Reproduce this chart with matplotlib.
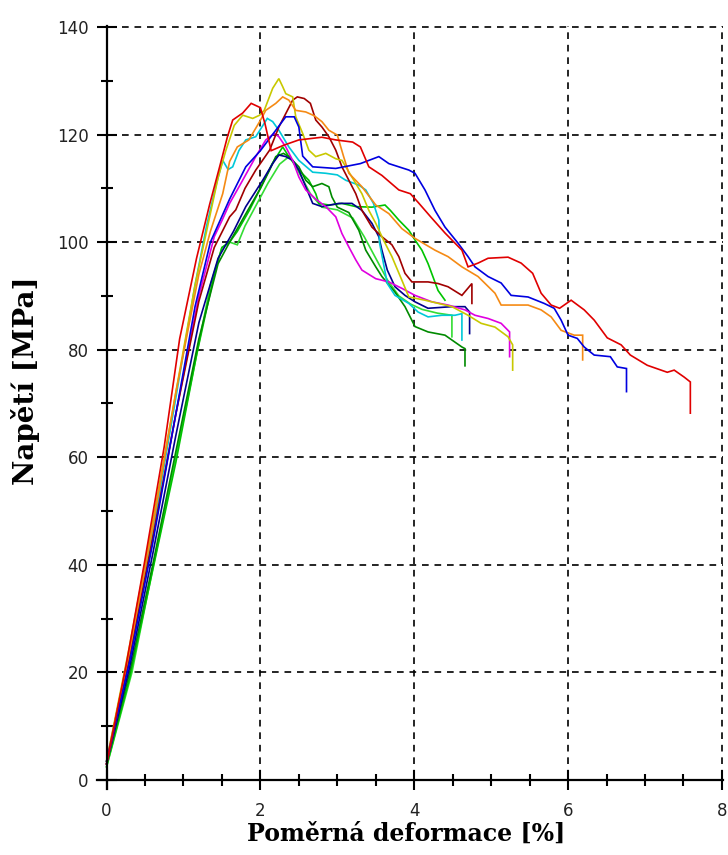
import matplotlib
matplotlib.use('Agg')
import matplotlib.pyplot as plt

# stress-strain curves of the tested specimens: strain [%], stress [MPa]
red_x = [0, 0.25, 0.5, 0.75, 0.95, 1.17, 1.34, 1.47, 1.57, 1.64, 1.77, 1.88, 2.0, 2.06, 2.14, 2.3, 2.5, 2.8, 2.98, 3.2, 3.3,
         3.41, 3.58, 3.8, 3.95, 4.05, 4.22, 4.4, 4.62, 4.70, 4.83, 4.96, 5.22, 5.39, 5.54, 5.65, 5.78, 5.89, 6.04, 6.21,
         6.34, 6.51, 6.69, 6.81, 7.03, 7.29, 7.38, 7.51, 7.59, 7.59]
red_y = [3, 21, 41, 62, 82, 97, 107, 114, 119.5, 122.7, 124, 125.8, 125, 122, 117, 118, 119, 119.5, 119, 118.6, 117.7,
         114, 112.4, 109.7, 109, 107.4, 104.6, 101.7, 98.5, 95.4, 96.1, 97, 97.2, 96.1, 94.2, 90.5, 88.3, 87.7, 89.2, 87.4,
         85.5, 82.2, 80.9, 79, 77.1, 75.8, 76.2, 74.9, 74, 68.2]

blue_x = [0, 0.3, 0.6, 0.9, 1.15, 1.35, 1.6, 1.81, 2.0, 2.2, 2.33, 2.44, 2.5, 2.55, 2.68, 2.98, 3.3, 3.54, 3.67, 3.93,
          4.01, 4.14, 4.27, 4.4, 4.57, 4.7, 4.79, 4.96, 5.13, 5.26, 5.48, 5.69, 5.82, 5.91, 6.0, 6.12, 6.21, 6.34, 6.55,
          6.64, 6.76, 6.76]
blue_y = [3.5, 22, 44, 68, 88, 100, 108, 114, 117, 120.8, 123.3, 123.3, 121.4, 116, 114, 113.7, 114.6, 115.9, 114.6, 113.4,
          112.8, 109.7, 105.9, 102.8, 99.8, 97.3, 95.4, 93.6, 92.4, 90.1, 89.8, 88.6, 87.7, 85.5, 82.7, 82.1, 80.5, 79, 78.7,
          76.8, 76.5, 72.2]

orange_x = [0, 0.3, 0.6, 0.9, 1.2, 1.35, 1.51, 1.6, 1.7, 1.85, 1.99, 2.07, 2.2, 2.29, 2.37, 2.46, 2.59, 2.7, 2.8, 2.89,
            3.0, 3.08, 3.15, 3.32, 3.5, 3.67, 3.84, 4.01, 4.27, 4.44, 4.62, 4.83, 5.05, 5.13, 5.48, 5.65, 5.78, 5.91,
            6.08, 6.19, 6.19]
orange_y = [3.5, 24, 47, 72, 94, 102, 109, 115, 117.7, 119, 122.4, 124.5, 125.8, 127, 126.4, 124.5, 124.2, 123.5, 122.4,
            120.8, 119.9, 116, 112.8, 110.3, 106.9, 105.3, 102.5, 100.7, 98.5, 97.3, 95.4, 93.6, 90.5, 88.3, 88.3, 87.4,
            86.1, 83.6, 82.7, 82.7, 78.1]

yellow_x = [0, 0.3, 0.6, 0.9, 1.15, 1.3, 1.45, 1.55, 1.66, 1.77, 1.9, 1.99, 2.05, 2.16, 2.24, 2.29, 2.33, 2.42, 2.46,
            2.55, 2.63, 2.72, 2.85, 2.98, 3.06, 3.19, 3.32, 3.41, 3.5, 3.6, 3.71, 3.84, 3.93, 4.14, 4.49, 4.7, 4.87,
            5.05, 5.22, 5.28, 5.28]
yellow_y = [3.5, 25, 48, 72, 92, 102, 112, 117, 121.7, 123.6, 123, 123.6, 124.5, 128.6, 130.4, 128.9, 127.6, 127, 123.3,
            120.2, 117.1, 115.9, 116.5, 115.5, 115.2, 112.1, 109, 105.9, 103.5, 100.4, 97.3, 92.9, 89.8, 89.2, 88, 86.4,
            84.9, 84.2, 82.4, 80.9, 76.2]

maroon_x = [0, 0.3, 0.6, 0.9, 1.2, 1.4, 1.6, 1.68, 1.8, 1.94, 2.12, 2.24, 2.33, 2.42, 2.48, 2.57, 2.65, 2.72, 2.8, 2.89,
            2.98, 3.06, 3.15, 3.24, 3.32, 3.45, 3.58, 3.71, 3.8, 3.88, 3.97, 4.18, 4.31, 4.44, 4.62, 4.75, 4.75]
maroon_y = [3, 23, 45, 68, 89, 99, 104.7, 106, 110, 113.4, 117.1, 121.4, 123.9, 126.4, 127, 126.7, 125.8, 122.7, 121.4,
            119.6, 117.1, 114, 111.5, 109, 105.9, 102.8, 101, 99.5, 97.3, 94.2, 92.6, 92.6, 92.3, 91.7, 90.1, 92.3, 88.6]

cyan_x = [0, 0.3, 0.6, 0.9, 1.15, 1.3, 1.43, 1.51, 1.58, 1.64, 1.72, 1.81, 1.94, 2.09, 2.16, 2.24, 2.37, 2.5, 2.68, 2.85,
          3.0, 3.11, 3.28, 3.37, 3.47, 3.54, 3.55, 3.65, 3.75, 3.93, 4.05, 4.18, 4.36, 4.53, 4.62, 4.62]
cyan_y = [3.5, 24, 46, 71, 92, 103, 110.9, 115.2, 113.5, 114, 117, 119, 119.6, 123, 122.4, 120.8, 117.7, 115.2, 113,
          112.8, 112.5, 111.5, 110.6, 109.7, 107.2, 104.1, 99.8, 92.3, 90.1, 88.6, 87, 86.1, 86.4, 86.4, 86.7, 81.8]

magenta_x = [0, 0.3, 0.6, 0.9, 1.2, 1.4, 1.5, 1.6, 1.75, 1.94, 2.07, 2.18, 2.24, 2.33, 2.42, 2.5, 2.59, 2.72, 2.85, 2.98,
             3.06, 3.15, 3.24, 3.32, 3.5, 3.67, 3.84, 4.01, 4.23, 4.44, 4.66, 4.79, 4.96, 5.13, 5.24, 5.24]
magenta_y = [3, 23, 45, 68, 90, 101, 104, 107.2, 111, 115.9, 119, 120.2, 119.6, 117.7, 115.2, 112.1, 109.7, 108, 106.6,
             104.7, 101.6, 99.1, 96.7, 94.8, 93.2, 92.6, 91.4, 90.1, 88.9, 88.3, 87.4, 86.4, 85.8, 84.9, 83.3, 78.7]

navy_x = [0, 0.3, 0.6, 0.9, 1.2, 1.45, 1.65, 1.81, 2.03, 2.16, 2.24, 2.33, 2.42, 2.5, 2.59, 2.68, 2.8, 3.02, 3.19, 3.32,
          3.45, 3.54, 3.58, 3.65, 3.75, 3.88, 4.01, 4.18, 4.49, 4.66, 4.72, 4.72]
navy_y = [3, 21, 42, 64, 85, 97, 102, 106.6, 111.5, 114.6, 116.2, 115.9, 115.2, 113.4, 110.3, 107.2, 106.6, 107.2, 107.2,
          105.9, 103.5, 101, 98.5, 94.8, 91.7, 90.1, 88.9, 87.7, 88, 88, 87, 83]

green_x = [0, 0.3, 0.6, 0.9, 1.17, 1.4, 1.5, 1.6, 1.7, 1.86, 2.0, 2.15, 2.29, 2.37, 2.5, 2.63, 2.72, 2.76, 2.89, 3.06,
           3.24, 3.45, 3.62, 3.69, 3.8, 3.93, 4.01, 4.1, 4.18, 4.31, 4.4]
green_y = [2.5, 19, 39, 59, 79, 94, 99, 100, 102, 106, 110, 114.5, 117.7, 115.9, 113.4, 111.5, 109, 107.2, 106.9, 107.2,
           106.6, 106.5, 106.9, 105.9, 104.1, 102.2, 100.4, 98.5, 96, 91, 89.2]

lime_x = [0, 0.33, 0.61, 0.9, 1.17, 1.35, 1.5, 1.6, 1.7, 1.8, 1.95, 2.1, 2.25, 2.38, 2.5, 2.65, 2.8, 3.0, 3.2, 3.35,
          3.5, 3.65, 3.8, 3.95, 4.1, 4.3, 4.49, 4.49]
lime_y = [2.4, 20, 40, 60, 79, 92, 99, 100, 99.5, 103, 107, 111, 114.5, 116, 113, 109, 106.5, 106, 104.5, 101, 97, 93,
          90, 88.5, 87.5, 86.8, 86.4, 82.4]

dkgreen_x = [0, 0.3, 0.6, 0.9, 1.2, 1.45, 1.6, 1.8, 2.0, 2.12, 2.2, 2.3, 2.37, 2.5, 2.59, 2.68, 2.8, 2.89, 2.93, 3.0,
             3.15, 3.28, 3.37, 3.5, 3.58, 3.75, 3.88, 4.01, 4.18, 4.4, 4.49, 4.62, 4.66, 4.66]
dkgreen_y = [3, 20, 40, 61, 82, 96, 100, 105, 110, 113.4, 115.9, 116.5, 115.9, 114, 111.5, 110.3, 110.9, 110.3, 108.4,
             106.5, 105.5, 102.2, 98.5, 95.4, 93.6, 90.7, 88, 84.3, 83.3, 82.7, 81.8, 80.5, 80.2, 77]

curves = [
    (lime_x, lime_y, '#33dd33'),
    (green_x, green_y, '#00c400'),
    (dkgreen_x, dkgreen_y, '#008a00'),
    (navy_x, navy_y, '#00008c'),
    (magenta_x, magenta_y, '#e000e0'),
    (cyan_x, cyan_y, '#00c8d8'),
    (maroon_x, maroon_y, '#a00000'),
    (yellow_x, yellow_y, '#c8c800'),
    (orange_x, orange_y, '#f58a14'),
    (blue_x, blue_y, '#0000e0'),
    (red_x, red_y, '#e00000'),
]

fig = plt.figure(figsize=(7.28, 8.55), dpi=100)
# axes box placed so that x=0..8 spans px 106..722 and y=0..140 spans px 780..27
ax = fig.add_axes([0.1337, 0.0777, 0.8600, 0.8920])

for x, y, c in curves:
    ax.plot(x, y, color=c, lw=1.2, solid_joinstyle='miter')

ax.set_xlim(-0.12, 8.02)
ax.set_ylim(-1.6, 140.2)
ax.spines['left'].set_position(('data', 0))
ax.spines['bottom'].set_position(('data', 0))
ax.spines['top'].set_visible(False)
ax.spines['right'].set_visible(False)
for s in ('left', 'bottom'):
    ax.spines[s].set_linewidth(1.6)

ax.set_xticks([0, 2, 4, 6, 8])
ax.set_xticks([0.5, 1, 1.5, 2.5, 3, 3.5, 4.5, 5, 5.5, 6.5, 7, 7.5], minor=True)
ax.set_yticks(range(0, 141, 20))
ax.set_yticks(range(10, 140, 20), minor=True)
ax.tick_params(which='major', direction='inout', length=14, width=1.5, labelsize=12, pad=6, labelcolor='#222222')
ax.tick_params(which='minor', direction='inout', length=9, width=1.5)
ax.tick_params(axis='x', which='major', pad=9)

ax.grid(which='major', color='black', linestyle=(0, (4, 3.5)), linewidth=1.2)
ax.set_axisbelow(True)

ax.set_xlabel('Poměrná deformace [%]', fontsize=17, fontweight='bold', family='DejaVu Serif')
ax.set_ylabel('Napětí [MPa]', fontsize=20, fontweight='bold', family='DejaVu Serif')
ax.yaxis.set_label_coords(-0.092, 0.535)
ax.xaxis.set_label_coords(0.493, -0.043)

fig.savefig('out.png', dpi=100)
